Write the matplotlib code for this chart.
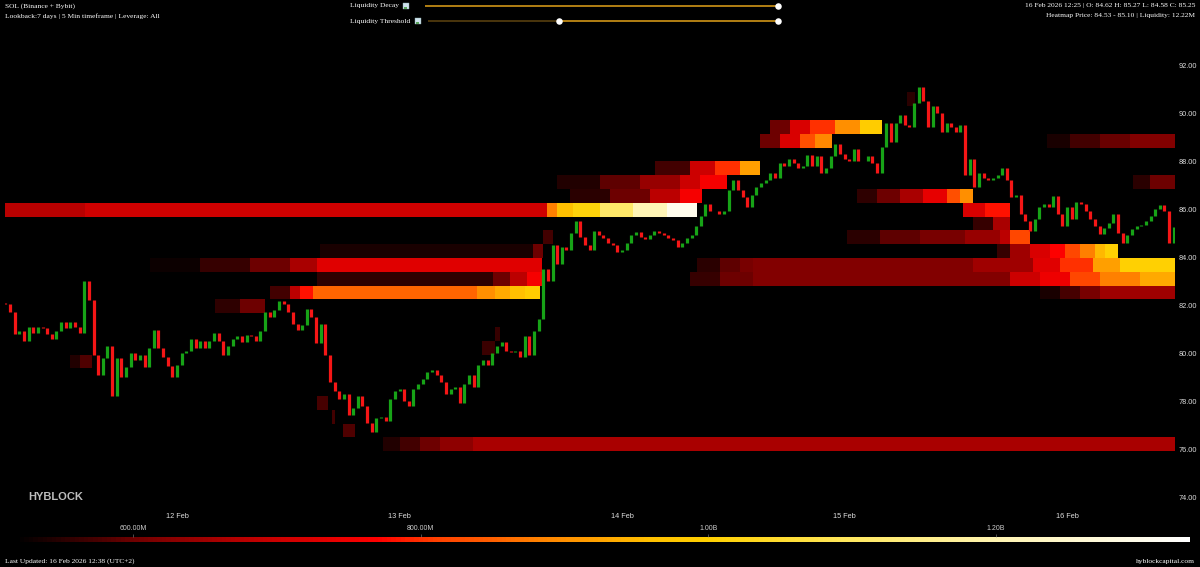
import numpy as np
import pandas as pd
import matplotlib
matplotlib.use("Agg")
import matplotlib.pyplot as plt
import matplotlib.dates as mdates
from matplotlib import ticker
from matplotlib.colors import LinearSegmentedColormap, Normalize
from matplotlib.cm import ScalarMappable

# %% DATOS
# SOL closes, 30 min candles from 11 Feb 05:30
candle_start = "2026-02-11 05:30"
first_open = 82.1
closes = [
    82.05, 81.7, 80.8, 80.9, 80.5, 81.1, 80.85, 81.1, 81.05, 80.8, 80.6, 80.9, 81.3, 81.05, 81.3, 81.1, 80.85,
    83.0, 82.2, 79.9, 79.1, 79.8, 80.3, 78.2, 79.8, 79.0, 79.4, 80.0, 79.7, 79.9, 79.4, 80.2, 80.95, 80.2,
    79.85, 79.45, 79.0, 79.5, 80.0, 80.1, 80.6, 80.2, 80.5, 80.2, 80.5, 80.85, 80.5, 79.9, 80.3, 80.6, 80.7,
    80.45, 80.75, 80.7, 80.5, 80.9, 81.7, 81.5, 81.8, 82.15, 82.05, 81.7, 81.2, 80.95, 81.15, 81.85, 81.5,
    80.4, 81.2, 79.9, 78.8, 78.4, 78.1, 78.3, 77.4, 77.7, 78.2, 77.8, 77.1, 76.7, 77.3, 77.35, 77.15, 78.1,
    78.4, 78.5, 78.0, 77.8, 78.5, 78.7, 78.9, 79.2, 79.3, 79.1, 78.8, 78.3, 78.5, 78.6, 77.9, 78.7, 79.1,
    78.6, 79.5, 79.7, 79.5, 80.0, 80.3, 80.45, 80.1, 80.05, 80.1, 79.85, 80.7, 79.9, 80.9, 81.4, 83.5,
    83.0, 84.5, 83.7, 84.4, 84.3, 85.0, 85.5, 84.85, 84.5, 84.3, 85.1, 84.9, 84.8, 84.6, 84.5, 84.2, 84.3,
    84.6, 84.9, 85.05, 84.85, 84.75, 84.9, 85.1, 85.0, 84.9, 84.8, 84.7, 84.4, 84.6, 84.8, 84.9, 85.3,
    85.7, 86.2, 85.9, 85.9, 85.8, 85.9, 86.8, 87.2, 86.8, 86.5, 86.1, 86.6, 86.9, 87.1, 87.2, 87.5, 87.3,
    87.9, 87.8, 88.1, 87.9, 87.7, 87.8, 88.25, 87.8, 88.2, 87.5, 87.7, 88.2, 88.7, 88.3, 88.1, 88.0, 88.5,
    88.0, 88.0, 88.2, 87.9, 87.5, 88.6, 89.6, 88.8, 89.6, 89.9, 89.5, 89.4, 90.4, 91.1, 90.5, 89.4, 90.3,
    90.0, 89.2, 89.6, 89.4, 89.2, 89.5, 87.4, 88.1, 86.9, 87.5, 87.3, 87.2, 87.3, 87.4, 87.7, 87.2, 86.5,
    86.6, 85.8, 85.5, 85.1, 85.6, 86.1, 86.2, 86.1, 86.55, 85.8, 85.3, 86.1, 85.6, 86.3, 86.2, 85.9, 85.6,
    85.3, 84.95, 85.2, 85.4, 85.8, 85.0, 84.6, 84.9, 85.15, 85.3, 85.35, 85.5, 85.7, 86.0, 86.15, 85.9,
    84.6, 85.25,
]

# heatmap price bins
bin_base = 83.96
bin_size = 0.575

# liquidity bands: bin index, time edges (day of Feb), liquidity (M) per block
band_bins = [3, 5, 4, 6, 8, 9, 8, 5, 4, 3, 2, 1, 1, 0, 0, -1, -1, -2, -2, -3, -3,
             -4, -8, -11, -12, -13, -14, -6, -7, 11]
band_edges = [
    [11.227, 11.587, 13.663, 13.708, 13.780, 13.901, 14.049, 14.202, 14.337],
    [13.708, 13.901, 14.081, 14.261, 14.351, 14.472],
    [13.766, 13.946, 14.126, 14.261, 14.360],
    [14.148, 14.306, 14.418, 14.530, 14.620],
    [14.620, 14.710, 14.800, 14.867, 14.944],
    [14.665, 14.755, 14.845, 14.957, 15.070, 15.169],
    [15.910, 16.013, 16.148, 16.283, 16.485],
    [16.297, 16.373, 16.485],
    [15.056, 15.146, 15.249, 15.353, 15.461, 15.519, 15.578],
    [15.533, 15.631, 15.744],
    [15.578, 15.667, 15.744],
    [15.011, 15.160, 15.339, 15.542, 15.699, 15.744, 15.834],
    [13.645, 13.690],
    [15.685, 15.744, 15.834, 15.924, 15.991, 16.058, 16.126, 16.171, 16.229],
    [12.643, 13.600, 13.645],
    [11.879, 12.103, 12.328, 12.508, 12.629, 13.640],
    [14.337, 14.440, 14.530, 14.589, 15.578, 15.847, 15.969, 16.117, 16.238, 16.485],
    [12.629, 13.420, 13.497, 13.573, 13.640],
    [14.306, 14.440, 14.589, 15.744, 15.879, 16.013, 16.148, 16.328, 16.485],
    [12.418, 12.508, 12.553, 12.611, 13.348, 13.429, 13.497, 13.564, 13.631],
    [15.879, 15.969, 16.058, 16.148, 16.485],
    [12.171, 12.283, 12.396],
    [11.519, 11.564, 11.618],
    [12.629, 12.679],
    [12.697, 12.710],
    [12.746, 12.800],
    [12.926, 13.002, 13.092, 13.182, 13.330, 16.485],
    [13.429, 13.452],
    [13.371, 13.429],
    [15.281, 15.317],
]
band_values = [
    [675, 705, 880, 960, 1010, 1110, 1210, 1300],
    [545, 590, 640, 700, 760],
    [550, 600, 680, 760],
    [570, 700, 800, 920],
    [600, 720, 830, 890],
    [600, 720, 800, 900, 990],
    [540, 570, 595, 620],
    [550, 600],
    [555, 600, 660, 740, 830, 900],
    [720, 780],
    [560, 660],
    [550, 590, 610, 640, 680, 820],
    [570],
    [560, 650, 720, 770, 820, 880, 950, 1000],
    [540, 600],
    [530, 560, 600, 660, 730],
    [550, 590, 610, 620, 650, 730, 800, 920, 1000],
    [555, 600, 680, 760],
    [560, 600, 620, 700, 750, 820, 880, 930],
    [570, 680, 780, 855, 900, 930, 960, 990],
    [540, 575, 610, 650],
    [555, 600],
    [545, 580],
    [575],
    [570],
    [580],
    [545, 570, 600, 630, 660],
    [560],
    [565],
    [550],
]

# colour scale of the heatmap (liquidity in M)
cmap_levels = [518, 555, 580, 600, 615, 650, 675, 700, 730, 770, 810, 850, 880,
               920, 960, 1000, 1100, 1200, 1335]
cmap_colors = ["#000000", "#300000", "#500000", "#700000", "#800000", "#a00000",
               "#b80000", "#cc0000", "#e00000", "#ff0000", "#ff4000", "#ff6000",
               "#ff8000", "#ffa000", "#ffc000", "#ffd000", "#ffe860", "#fff4b0",
               "#ffffff"]
cbar_ticks = [600, 800, 1000, 1200]
cbar_labels = ["600.00M", "800.00M", "1.00B", "1.20B"]

# %% GRAFICO
W, H = 1200, 567
fig = plt.figure(figsize=(W / 100, H / 100), dpi=100, facecolor="black")


def px_box(x0, y0, x1, y1):
    return [x0 / W, 1 - y1 / H, (x1 - x0) / W, (y1 - y0) / H]


ax = fig.add_axes(px_box(5, 30, 1175, 505))
ax.set_facecolor("black")
for s in ax.spines.values():
    s.set_visible(False)

vmin, vmax = cmap_levels[0], cmap_levels[-1]
pos = [(v - vmin) / (vmax - vmin) for v in cmap_levels]
cmap = LinearSegmentedColormap.from_list("hyb", list(zip(pos, cmap_colors)))
norm = Normalize(vmin, vmax)

feb0 = mdates.date2num(pd.Timestamp("2026-02-01")) - 1.0


def feb_day(d):
    return feb0 + np.asarray(d, dtype=float)


for k, edges, vals in zip(band_bins, band_edges, band_values):
    lo = bin_base + k * bin_size
    ax.pcolormesh(feb_day(edges), [lo, lo + bin_size], [vals], cmap=cmap,
                  norm=norm, shading="flat", edgecolors="none",
                  antialiased=False, zorder=1)

# candles (open = previous close)
times = pd.date_range(candle_start, periods=len(closes), freq="30min")
tnum = mdates.date2num(times)
c = np.array(closes)
o = np.concatenate([[first_open], c[:-1]])
up = c >= o
ax.vlines(tnum[up], o[up], c[up], colors="#17a317", linewidth=2.3, zorder=3)
ax.vlines(tnum[~up], o[~up], c[~up], colors="#f51616", linewidth=2.3, zorder=3)

ax.set_xlim(feb_day(11.227), feb_day(16.485))
ax.set_ylim(73.67, 93.46)
ax.yaxis.tick_right()
ax.yaxis.set_major_locator(ticker.MultipleLocator(2))
ax.yaxis.set_major_formatter(ticker.FormatStrFormatter("%.2f"))
ax.xaxis.set_major_locator(mdates.DayLocator())
ax.xaxis.set_major_formatter(mdates.DateFormatter("%d %b"))
ax.tick_params(axis="both", length=0, labelsize=5.3, labelcolor="#dddddd")
ax.tick_params(axis="y", pad=2.5)
ax.tick_params(axis="x", pad=6)
for lab in ax.get_xticklabels() + ax.get_yticklabels():
    lab.set_fontfamily("Liberation Sans")

# colorbar
cax = fig.add_axes(px_box(15, 537, 1190, 542))
cb = fig.colorbar(ScalarMappable(norm=norm, cmap=cmap), cax=cax,
                  orientation="horizontal", ticks=cbar_ticks)
cb.set_ticklabels(cbar_labels)
cb.outline.set_visible(False)
cax.xaxis.set_ticks_position("top")
cax.tick_params(length=2, width=0.4, color="#888888", labelsize=5.0,
                labelcolor="#cccccc", pad=1.5)
for lab in cax.get_xticklabels():
    lab.set_fontfamily("Liberation Sans")

# overlay in pixel coordinates for header, sliders and footer
ov = fig.add_axes([0, 0, 1, 1], zorder=5)
ov.set_xlim(0, W)
ov.set_ylim(H, 0)
ov.axis("off")
ov.patch.set_alpha(0)

serif = dict(family="Liberation Serif", fontsize=5.4, color="white", va="center")
ov.text(5, 6, "SOL (Binance + Bybit)", ha="left", **serif)
ov.text(5, 16, "Lookback:7 days | 5 Min timeframe | Leverage: All", ha="left", **serif)
ov.text(1195, 6, "16 Feb 2026 12:25 | O: 84.62 H: 85.27 L: 84.58 C: 85.25", ha="right", **serif)
ov.text(1195, 16, "Heatmap Price: 84.53 - 85.10 | Liquidity: 12.22M", ha="right", **serif)
ov.text(350, 6, "Liquidity Decay", ha="left", **serif)
ov.text(350, 21, "Liquidity Threshold", ha="left", **serif)
ov.text(5, 561, "Last Updated: 16 Feb 2026 12:38 (UTC+2)", ha="left", **serif)
ov.text(1195, 561, "hyblockcapital.com", ha="right", **serif)

# little broken image icons
for x0, y0 in [(403, 3), (415, 18)]:
    ov.add_patch(plt.Rectangle((x0, y0), 6, 6, facecolor="#cfe3ee", edgecolor="#8aa", lw=0.3))
    ov.add_patch(plt.Rectangle((x0 + 1, y0 + 3.5), 3, 2, facecolor="#5aa35a", lw=0))

gold = "#e3a21a"
ov.plot([425, 778], [6, 6], color=gold, lw=1.1, solid_capstyle="butt")
ov.plot([428, 559], [21, 21], color="#5e4410", lw=1.1, solid_capstyle="butt")
ov.plot([559, 778], [21, 21], color=gold, lw=1.1, solid_capstyle="butt")
ov.scatter([778, 559, 778], [6, 21, 21], s=22, color="white", zorder=6, linewidths=0)

ov.text(28, 497, "HYBLOCK", ha="left", va="center", family="Liberation Sans",
        fontsize=8, fontweight="bold", color="#bdbdbd")

fig.savefig("out.png", dpi=100, facecolor="black")
